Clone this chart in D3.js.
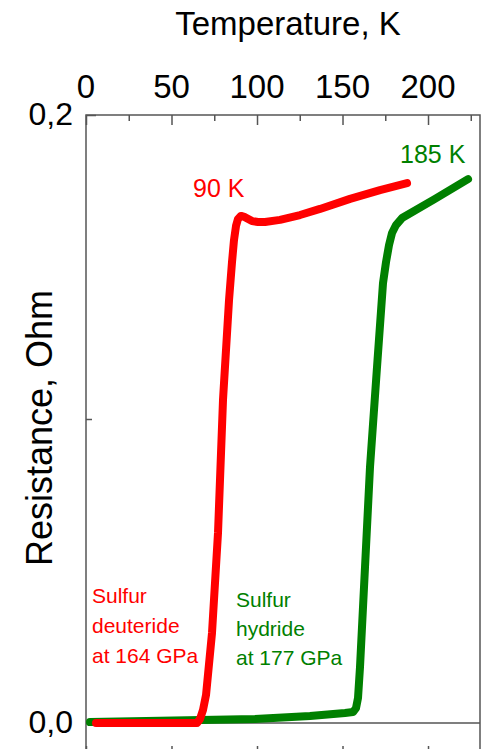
<!DOCTYPE html>
<html>
<head>
<meta charset="utf-8">
<script src="https://cdn.jsdelivr.net/npm/d3@7"></script>
<style>
  html, body { margin: 0; padding: 0; background: #fff; }
  svg { display: block; font-family: "Liberation Sans", Arial, sans-serif; }
</style>
</head>
<body>
<svg id="chart" width="489" height="749"></svg>
<script>
// Sulfur deuteride at 164 GPa: temperature (K) and resistance (Ohm)
const deuterideT = [5.85, 64.91, 66.67, 68.42, 70.18, 73.68, 77.19, 80.12, 83.63, 85.38, 86.55, 87.72, 88.89, 90.64, 92.98, 97.08, 100.58, 104.68, 113.45, 125.15, 136.84, 154.39, 171.93, 187.72];
const deuterideR = [0, 0, 0.0013, 0.0043, 0.0092, 0.0296, 0.0625, 0.1063, 0.1391, 0.1516, 0.1589, 0.1635, 0.1658, 0.1668, 0.1664, 0.1651, 0.1648, 0.1648, 0.1655, 0.1671, 0.1691, 0.1724, 0.1753, 0.1776];

// Sulfur hydride at 177 GPa
const hydrideT = [2.34, 43.27, 98.83, 130.99, 151.46, 156.14, 157.89, 159.06, 160.23, 163.16, 166.08, 170.18, 173.68, 175.44, 177.19, 178.95, 181.29, 184.80, 204.09, 223.39];
const hydrideR = [0.0003, 0.0007, 0.0013, 0.0023, 0.0033, 0.0036, 0.0049, 0.0082, 0.0184, 0.0513, 0.0842, 0.1171, 0.1447, 0.1516, 0.1572, 0.1612, 0.1638, 0.1661, 0.1724, 0.1789];

const xMajorTicks = [0, 50, 100, 150, 200];
const xMinorTicks = [25, 75, 125, 175, 225];
const yLabelTicks = [0, 0.2];
const yMinorTicks = [0.1];

const svg = d3.select("#chart");
const plotLeft = 86, plotRight = 480, plotTop = 115, zeroY = 723, plotBottom = 756;

const x = d3.scaleLinear().domain([0, 230.4]).range([plotLeft, plotRight]);
const y = d3.scaleLinear().domain([0, 0.2]).range([zeroY, plotTop]);

const frameColor = "#555";
const red = "#ff0000";
const green = "#008000";

// frame
svg.append("rect")
  .attr("x", plotLeft).attr("y", plotTop)
  .attr("width", plotRight - plotLeft).attr("height", plotBottom - plotTop)
  .attr("fill", "none").attr("stroke", frameColor).attr("stroke-width", 1.5);

// zero line
svg.append("line")
  .attr("x1", plotLeft).attr("x2", plotRight)
  .attr("y1", y(0)).attr("y2", y(0))
  .attr("stroke", frameColor).attr("stroke-width", 1.5);

// top axis, ticks pointing inward
const gTop = svg.append("g").attr("transform", `translate(0,${plotTop})`)
  .call(d3.axisBottom(x).tickValues(xMajorTicks).tickSize(10).tickFormat(""));
const gTopMinor = svg.append("g").attr("transform", `translate(0,${plotTop})`)
  .call(d3.axisBottom(x).tickValues(xMinorTicks).tickSize(6).tickFormat(""));

// bottom axis, ticks pointing inward
const gBot = svg.append("g").attr("transform", `translate(0,${plotBottom})`)
  .call(d3.axisTop(x).tickValues(xMajorTicks).tickSize(10).tickFormat(""));
const gBotMinor = svg.append("g").attr("transform", `translate(0,${plotBottom})`)
  .call(d3.axisTop(x).tickValues(xMinorTicks).tickSize(6).tickFormat(""));

// left axis
const gLeft = svg.append("g").attr("transform", `translate(${plotLeft},0)`)
  .call(d3.axisRight(y).tickValues(yLabelTicks).tickSize(10).tickFormat(""));
const gLeftMinor = svg.append("g").attr("transform", `translate(${plotLeft},0)`)
  .call(d3.axisRight(y).tickValues(yMinorTicks).tickSize(6).tickFormat(""));

[gTop, gTopMinor, gBot, gBotMinor, gLeft, gLeftMinor].forEach(g => {
  g.select(".domain").remove();
  g.selectAll(".tick line").attr("stroke", frameColor).attr("stroke-width", 1.5);
});

// top tick labels
svg.append("g").selectAll("text").data(xMajorTicks).join("text")
  .attr("x", d => x(d)).attr("y", 98)
  .attr("text-anchor", "middle")
  .attr("font-size", 33).attr("fill", "#000")
  .text(d => d);

// left tick labels
svg.append("g").selectAll("text").data(yLabelTicks).join("text")
  .attr("x", 73).attr("y", d => y(d) + 10)
  .attr("text-anchor", "end")
  .attr("font-size", 32).attr("fill", "#000")
  .text(d => d3.format(".1f")(d).replace(".", ","));

// axis titles
svg.append("text")
  .attr("x", 288).attr("y", 35)
  .attr("text-anchor", "middle")
  .attr("font-size", 33).attr("fill", "#000")
  .text("Temperature, K");

svg.append("text")
  .attr("transform", "translate(52,428) rotate(-90)")
  .attr("text-anchor", "middle")
  .attr("font-size", 36).attr("fill", "#000")
  .text("Resistance, Ohm");

// curves
const line = d3.line()
  .x(d => x(d[0])).y(d => y(d[1]))
  .curve(d3.curveLinear);

const hydride = hydrideT.map((t, i) => [t, hydrideR[i]]);
const deuteride = deuterideT.map((t, i) => [t, deuterideR[i]]);

svg.append("path").datum(hydride)
  .attr("d", line).attr("fill", "none")
  .attr("stroke", green).attr("stroke-width", 8)
  .attr("stroke-linecap", "round").attr("stroke-linejoin", "round");

svg.append("path").datum(deuteride)
  .attr("d", line).attr("fill", "none")
  .attr("stroke", red).attr("stroke-width", 8)
  .attr("stroke-linecap", "round").attr("stroke-linejoin", "round");

// annotations
svg.append("text").attr("x", 193).attr("y", 197)
  .attr("font-size", 25).attr("fill", red).text("90 K");
svg.append("text").attr("x", 400).attr("y", 163)
  .attr("font-size", 25).attr("fill", green).text("185 K");

const dLines = ["Sulfur", "deuteride", "at 164 GPa"];
svg.append("g").selectAll("text").data(dLines).join("text")
  .attr("x", 92).attr("y", (d, i) => 603 + i * 30)
  .attr("font-size", 21).attr("fill", red).text(d => d);

const hLines = ["Sulfur", "hydride", "at 177 GPa"];
svg.append("g").selectAll("text").data(hLines).join("text")
  .attr("x", 236).attr("y", (d, i) => 607 + i * 29)
  .attr("font-size", 21).attr("fill", green).text(d => d);
</script>
</body>
</html>
